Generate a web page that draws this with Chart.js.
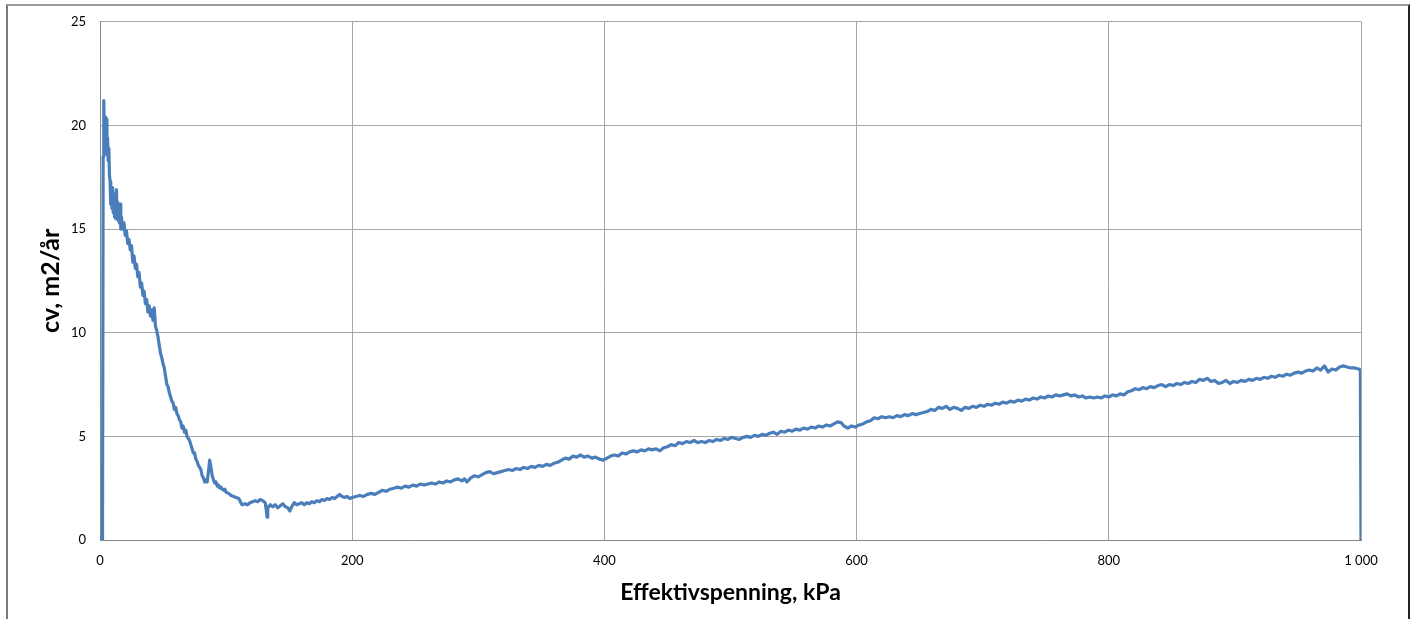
<!DOCTYPE html>
<html>
<head>
<meta charset="utf-8">
<script src="https://cdn.jsdelivr.net/npm/chart.js@4/dist/chart.umd.min.js"></script>
<style>
    html, body { margin: 0; padding: 0; background: #fff; overflow: hidden; }
    #frame {
        position: absolute; left: 6px; top: 4px; width: 1400px; height: 700px;
        border-top: 2px solid #9a9a9a; border-left: 2px solid #7a7a7a; border-right: 2px solid #222;
        pointer-events: none;
    }
    #cvChart { position: absolute; left: 0; top: 0; }
</style>
</head>
<body>
<div id="frame"></div>
<canvas id="cvChart" width="1414" height="619"></canvas>
<script>
// Effektivspenning (kPa) og cv (m2/år), lest av figuren
const pressureKPa = [
    0, 2, 2.5, 3, 3.5, 4, 4.5, 5, 5.5, 6, 6.5, 7, 7.5, 8, 8.5, 9, 9.5, 10, 10.5, 11, 11.5, 12, 12.5, 13, 13.5, 14, 14.5, 15, 15.5, 16, 16.5, 17,
    18, 19, 20, 21, 22, 23, 24, 25, 26, 27, 28, 29, 30, 31, 32, 33, 34, 35, 36, 37, 38, 39, 40, 41, 42, 43, 44, 45, 46, 47, 48, 49, 50,
    51, 52, 53, 54, 55, 56, 57, 58, 59, 60, 61, 62, 63, 64, 65, 66, 67, 68, 69, 70, 71, 72, 73, 74, 75, 76, 77, 78, 79, 80,
    81, 82, 83, 84, 85, 86, 87, 88, 89, 90, 91, 92, 93, 94, 95, 96, 97, 98, 99, 100, 102, 104, 106, 108, 110, 111, 112, 113, 115, 117, 119,
    121, 123, 125, 127, 129, 131, 132, 132.5, 133, 135, 137, 139, 141, 143, 145, 147, 149, 150.5, 152, 154, 156, 158, 160, 162, 164, 166, 168,
    170, 172, 174, 176, 178, 180, 182, 184, 186, 188, 190, 192, 194, 196, 198, 200, 203, 206, 209, 212, 215, 218, 221, 224, 227, 230,
    233, 236, 239, 242, 245, 248, 251, 254, 257, 260, 263, 266, 269, 272, 275, 278, 281, 284, 287, 289, 291, 294, 297, 300,
    303, 306, 309, 312, 315, 318, 321, 324, 327, 330, 333, 336, 339, 342, 345, 348, 351, 354, 357, 360, 363, 366, 369, 372, 375, 378,
    381, 384, 387, 390, 393, 396, 399, 402, 405, 408, 411, 414, 417, 420, 423, 426, 429, 432, 435, 438, 441, 444, 447, 450, 453, 456,
    459, 462, 465, 468, 471, 474, 477, 480, 483, 486, 489, 492, 495, 498, 501, 504, 507, 510, 513, 516, 519, 522, 525, 528, 531, 534,
    537, 540, 543, 546, 549, 552, 555, 558, 561, 564, 567, 570, 573, 576, 579, 582, 585, 588, 590, 593, 596, 599, 602, 605, 608, 611,
    614, 617, 620, 623, 626, 629, 632, 635, 638, 641, 644, 647, 650, 653, 656, 659, 662, 665, 668, 671, 674, 677, 680, 683, 686, 689,
    692, 695, 698, 701, 704, 707, 710, 713, 716, 719, 722, 725, 728, 731, 734, 737, 740, 743, 746, 749, 752, 755, 758, 761, 764, 767,
    770, 773, 776, 779, 782, 785, 788, 791, 794, 797, 800, 803, 806, 809, 812, 815, 818, 821, 824, 827, 830, 833, 836, 839, 842, 845,
    848, 851, 854, 857, 860, 863, 866, 869, 872, 875, 878, 881, 884, 887, 890, 893, 896, 899, 902, 905, 908, 911, 914, 917, 920, 923,
    926, 929, 932, 935, 938, 941, 944, 947, 950, 953, 956, 959, 962, 965, 968, 971, 974, 977, 980, 983, 986, 989, 992, 995, 998, 999.5, 1000
];
const cvValues = [
    0, 0, 18.5, 21.2, 19.4, 20.4, 18.8, 20.3, 18.6, 19.4, 18.3, 18.9, 17.6, 17.3, 16.2, 16.9, 16.0, 17.0, 15.8, 16.7, 15.6, 16.4, 15.5, 16.9, 15.7, 16.3, 15.4, 16.1, 15.3, 16.2, 15.0, 15.6,
    15.0, 15.3, 14.7, 14.9, 14.3, 14.5, 14.0, 14.2, 13.4, 13.7, 13.1, 13.3, 12.7, 12.9, 12.2, 12.4, 11.8, 12.0, 11.4, 11.6, 11.0, 11.3, 10.8, 11.1, 10.6, 11.2, 10.3, 10.1, 9.8, 9.4, 9.0, 8.8, 8.5,
    8.3, 7.9, 7.5, 7.4, 7.1, 6.9, 6.7, 6.6, 6.3, 6.4, 6.1, 6.0, 5.8, 5.7, 5.4, 5.5, 5.2, 5.3, 5.0, 4.9, 4.8, 4.6, 4.4, 4.2, 4.2, 3.9, 3.8, 3.6, 3.5, 3.4,
    3.1, 3.0, 2.8, 2.9, 2.8, 3.3, 3.85, 3.5, 3.1, 2.9, 2.75, 2.8, 2.6, 2.65, 2.5, 2.55, 2.45, 2.4, 2.45, 2.3, 2.25, 2.15, 2.1, 2.05, 2.0, 1.9, 1.75, 1.7, 1.75, 1.7, 1.8,
    1.85, 1.9, 1.85, 1.95, 1.9, 1.8, 1.4, 1.1, 1.55, 1.7, 1.6, 1.7, 1.55, 1.65, 1.75, 1.6, 1.55, 1.4, 1.6, 1.8, 1.7, 1.75, 1.8, 1.7, 1.8, 1.75, 1.85,
    1.8, 1.9, 1.85, 1.95, 1.9, 2.0, 1.95, 2.05, 2.0, 2.1, 2.2, 2.1, 2.05, 2.1, 2.0, 2.05, 2.1, 2.15, 2.1, 2.2, 2.25, 2.2, 2.3, 2.4, 2.35, 2.45,
    2.5, 2.55, 2.5, 2.6, 2.55, 2.65, 2.6, 2.7, 2.65, 2.7, 2.75, 2.7, 2.8, 2.75, 2.85, 2.8, 2.9, 2.95, 2.85, 2.95, 2.8, 3.0, 3.1, 3.05,
    3.15, 3.25, 3.3, 3.2, 3.25, 3.3, 3.35, 3.4, 3.35, 3.45, 3.4, 3.5, 3.45, 3.55, 3.5, 3.6, 3.55, 3.65, 3.6, 3.7, 3.75, 3.85, 3.95, 3.9, 4.05, 4.0,
    4.1, 4.0, 4.05, 3.95, 4.0, 3.9, 3.85, 3.95, 4.05, 4.1, 4.05, 4.2, 4.15, 4.25, 4.3, 4.25, 4.35, 4.3, 4.4, 4.35, 4.4, 4.3, 4.45, 4.5, 4.6, 4.55,
    4.7, 4.65, 4.75, 4.7, 4.8, 4.7, 4.75, 4.7, 4.8, 4.75, 4.85, 4.8, 4.9, 4.85, 4.95, 4.9, 4.85, 4.95, 5.0, 4.95, 5.05, 5.0, 5.1, 5.05, 5.15, 5.2,
    5.1, 5.25, 5.2, 5.3, 5.25, 5.35, 5.3, 5.4, 5.35, 5.45, 5.4, 5.5, 5.45, 5.55, 5.5, 5.6, 5.7, 5.65, 5.5, 5.4, 5.5, 5.45, 5.55, 5.6, 5.7, 5.75,
    5.9, 5.85, 5.95, 5.9, 5.95, 5.9, 6.0, 5.95, 6.05, 6.0, 6.1, 6.05, 6.1, 6.15, 6.2, 6.3, 6.25, 6.4, 6.35, 6.45, 6.3, 6.4, 6.35, 6.25, 6.4, 6.35,
    6.45, 6.4, 6.5, 6.45, 6.55, 6.5, 6.6, 6.55, 6.65, 6.6, 6.7, 6.65, 6.75, 6.7, 6.8, 6.75, 6.85, 6.8, 6.9, 6.85, 6.95, 6.9, 7.0, 6.95, 7.0, 7.05,
    6.95, 7.0, 6.9, 6.95, 6.85, 6.9, 6.85, 6.9, 6.85, 6.95, 6.9, 7.0, 6.95, 7.05, 7.0, 7.15, 7.2, 7.3, 7.25, 7.35, 7.3, 7.4, 7.35, 7.45, 7.5, 7.4,
    7.5, 7.45, 7.55, 7.5, 7.6, 7.55, 7.65, 7.6, 7.75, 7.7, 7.8, 7.65, 7.7, 7.55, 7.6, 7.7, 7.55, 7.65, 7.6, 7.7, 7.65, 7.75, 7.7, 7.8, 7.75, 7.85,
    7.8, 7.9, 7.85, 7.95, 7.9, 8.0, 7.95, 8.05, 8.1, 8.05, 8.15, 8.2, 8.15, 8.3, 8.2, 8.4, 8.1, 8.25, 8.2, 8.35, 8.4, 8.35, 8.3, 8.3, 8.25, 8.2, 0
];
const xTicks = [0, 200, 400, 600, 800, 1000];
const yTicks = [0, 5, 10, 15, 20, 25];

const fontFamily = 'Lato, "Open Sans", sans-serif';
const points = pressureKPa.map((x, i) => ({ x: x, y: cvValues[i] }));

const ctx = document.getElementById('cvChart').getContext('2d');
const cvChart = new Chart(ctx, {
    type: 'line',
    data: {
        datasets: [{
            data: points,
            borderColor: '#4a7ebb',
            borderWidth: 3.2,
            borderJoinStyle: 'round',
            pointRadius: 0,
            tension: 0,
            fill: false
        }]
    },
    options: {
        responsive: false,
        devicePixelRatio: 1,
        animation: false,
        layout: { padding: { top: 20, right: 53, left: 0, bottom: 0 } },
        plugins: {
            legend: { display: false },
            tooltip: { enabled: false }
        },
        scales: {
            x: {
                type: 'linear',
                min: 0,
                max: 1000,
                afterBuildTicks: function(scale) {
                    scale.ticks = xTicks.map(v => ({ value: v }));
                },
                afterFit: function(scale) { scale.height = 79; },
                ticks: {
                    padding: 13,
                    color: '#000',
                    font: { family: fontFamily, size: 13 },
                    callback: function(v) { return v >= 1000 ? '1 000' : String(v); }
                },
                grid: { color: '#a6a6a6', lineWidth: 1, drawTicks: false },
                border: { color: '#868686', width: 1 },
                title: {
                    display: true,
                    text: 'Effektivspenning, kPa',
                    color: '#000',
                    font: { family: fontFamily, size: 23, weight: 'bold' },
                    padding: { top: 0, bottom: 13 }
                }
            },
            y: {
                min: 0,
                max: 25,
                afterBuildTicks: function(scale) {
                    scale.ticks = yTicks.map(v => ({ value: v }));
                },
                afterFit: function(scale) { scale.width = 100; },
                ticks: {
                    padding: 14,
                    color: '#000',
                    font: { family: fontFamily, size: 13 }
                },
                grid: { color: '#a6a6a6', lineWidth: 1, drawTicks: false },
                border: { color: '#868686', width: 1 },
                title: {
                    display: true,
                    text: 'cv, m2/år',
                    color: '#000',
                    font: { family: fontFamily, size: 25, weight: 'bold' },
                    padding: { top: 36, bottom: 0 }
                }
            }
        }
    }
});
</script>
</body>
</html>
